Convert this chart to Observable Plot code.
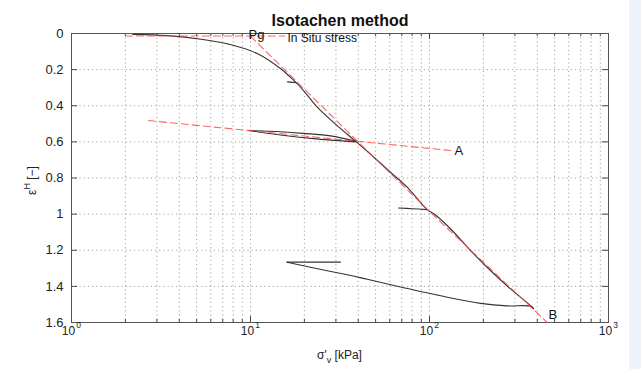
<!DOCTYPE html>
<html><head><meta charset="utf-8">
<script src="https://cdn.jsdelivr.net/npm/d3@7"></script>
<script src="https://cdn.jsdelivr.net/npm/@observablehq/plot@0.6"></script>
<style>
html,body{margin:0;padding:0;background:#fff;}
body{width:641px;height:369px;overflow:hidden;position:relative;font-family:"Liberation Sans",Arial,sans-serif;}
#chart{position:absolute;left:0;top:0;}
#strip{position:absolute;left:629px;top:0;width:12px;height:369px;background:#eef3fb;}
</style></head><body>
<div id="chart"></div><div id="strip"></div>
<script>
// ---- data ----
// main loading (virgin compression) path
const mainSigma = [2.2, 3.4, 5.3, 8.0, 10.9, 14.7, 16.7, 19.4, 23.6, 30.5, 38.6, 48.9, 60.5, 75, 97.1, 105.7, 131, 169.5, 219, 283.6, 375, 381];
const mainStrain = [0.005, 0.012, 0.032, 0.065, 0.111, 0.194, 0.242, 0.306, 0.408, 0.510, 0.596, 0.685, 0.768, 0.851, 0.975, 0.998, 1.081, 1.202, 1.312, 1.414, 1.515, 1.523];
// small unload/reload steps
const stub1Sigma = [18.0, 16.1];
const stub1Strain = [0.272, 0.268];
const unload1Sigma = [38.6, 28, 19.8, 14.7, 9.75];
const unload1Strain = [0.596, 0.567, 0.553, 0.544, 0.537];
const reload1Sigma = [9.75, 14.7, 22.5, 38.6];
const reload1Strain = [0.537, 0.562, 0.582, 0.600];
const stub2Sigma = [97.1, 80, 67.1];
const stub2Strain = [0.975, 0.970, 0.966];
const unload3Sigma = [381, 366.7, 271.6, 192.8, 125.6, 68.9, 44.9, 34.7, 22.6, 16.0];
const unload3Strain = [1.523, 1.510, 1.508, 1.494, 1.460, 1.403, 1.361, 1.336, 1.298, 1.266];
const reload3Sigma = [16.0, 31.8];
const reload3Strain = [1.266, 1.266];

// red dashed construction lines
const inSituSigma = [2, 15.5];
const inSituStrain = [0.014, 0.014];
const ncSigma = [10, 39, 100, 455];
const ncStrain = [0.015, 0.59, 0.985, 1.6];
const urSigma = [2.69, 131];
const urStrain = [0.482, 0.648];

// annotations
const annText = ["Pg", "In Situ stress", "A", "B"];
const annSigma = [9.75, 16.1, 138, 462];
const annStrain = [0.006, 0.026, 0.652, 1.56];

// axes
const xMajor = [1, 10, 100, 1000];
const xExp = ["0", "1", "2", "3"];
const xMinor = [1, 10, 100].flatMap(d => [2,3,4,5,6,7,8,9].map(k => k * d));
const yTicks = [0, 0.2, 0.4, 0.6, 0.8, 1, 1.2, 1.4, 1.6];
const yTickLabels = ["0", "0.2", "0.4", "0.6", "0.8", "1", "1.2", "1.4", "1.6"];
const yGrid = [0.2, 0.4, 0.6, 0.8, 1, 1.2, 1.4];
const title = "Isotachen method";

// ---- build tables ----
const tbl = (s, e, id) => s.map((v, i) => ({s: v, e: e[i], id}));
const black = [
  ...tbl(mainSigma, mainStrain, "main"),
  ...tbl(stub1Sigma, stub1Strain, "stub1"),
  ...tbl(unload1Sigma, unload1Strain, "un1"),
  ...tbl(reload1Sigma, reload1Strain, "re1"),
  ...tbl(stub2Sigma, stub2Strain, "stub2"),
  ...tbl(unload3Sigma, unload3Strain, "un3"),
  ...tbl(reload3Sigma, reload3Strain, "re3")
];
const red = [...tbl(inSituSigma, inSituStrain, "insitu"), ...tbl(ncSigma, ncStrain, "nc"), ...tbl(urSigma, urStrain, "ur")];
const ann = annText.map((t, i) => ({t, s: annSigma[i], e: annStrain[i]}));

const W = 641, H = 369, mL = 71, mR = 33, mT = 33, mB = 47;
const fw = W - mL - mR, fh = H - mT - mB;
const gridStyle = {stroke: "#8a8a8a", strokeWidth: 0.8, strokeDasharray: "1.2,3", strokeOpacity: 1};
const tickC = "#444";

const plot = Plot.plot({
  width: W, height: H,
  marginLeft: mL, marginRight: mR, marginTop: mT, marginBottom: mB,
  style: {fontFamily: "'Liberation Sans', Arial, sans-serif", background: "transparent", overflow: "visible"},
  x: {type: "log", domain: [1, 1000], axis: null},
  y: {domain: [0, 1.6], reverse: true, axis: null},
  marks: [
    Plot.gridX(xMinor, {...gridStyle}),
    Plot.gridX([10, 100], {...gridStyle}),
    Plot.gridY(yGrid, {...gridStyle}),
    // inward ticks
    Plot.tickX(xMajor, {x: d => d, stroke: tickC, insetTop: fh - 6}),
    Plot.tickX(xMajor, {x: d => d, stroke: tickC, insetBottom: fh - 6}),
    Plot.tickX(xMinor, {x: d => d, stroke: tickC, insetTop: fh - 3}),
    Plot.tickX(xMinor, {x: d => d, stroke: tickC, insetBottom: fh - 3}),
    Plot.tickY(yTicks, {y: d => d, stroke: tickC, insetRight: fw - 6}),
    Plot.tickY(yTicks, {y: d => d, stroke: tickC, insetLeft: fw - 6}),
    Plot.frame({stroke: "#555", strokeWidth: 1}),
    // experimental curve
    Plot.line(black, {x: "s", y: "e", z: "id", stroke: "#333", strokeWidth: 1.1, curve: "catmull-rom"}),
    // construction lines
    Plot.line(red, {x: "s", y: "e", z: "id", stroke: "#ff4a4a", strokeWidth: 1.1, strokeDasharray: "7,4", strokeOpacity: 0.85}),
    // annotations
    Plot.text(ann, {x: "s", y: "e", text: "t", textAnchor: "start", fontSize: d => d.t === "In Situ stress" ? 12 : 13, fill: "#111"}),
    // tick labels
    Plot.text(yTicks, {y: d => d, text: (d, i) => yTickLabels[i], frameAnchor: "left", textAnchor: "end", dx: -8, fontSize: 13, fill: "#222"}),
    Plot.text(xMajor, {x: d => d, text: () => "10", frameAnchor: "bottom", dx: -3, dy: 12, fontSize: 12, fill: "#222"}),
    Plot.text(xMajor, {x: d => d, text: (d, i) => xExp[i], frameAnchor: "bottom", dx: 7, dy: 5, fontSize: 8.5, fill: "#222"}),
    // title
    Plot.text([title], {text: d => d, frameAnchor: "top", dy: -19, fontSize: 16, fontWeight: "bold", fill: "#111"})
  ]
});
document.getElementById("chart").appendChild(plot);

// axis titles with sub/superscripts
const svg = d3.select(plot);
const xl = svg.append("text").attr("x", mL + fw / 2).attr("y", H - 10)
  .attr("text-anchor", "middle").attr("font-size", 12).attr("fill", "#222")
  .attr("font-family", "'Liberation Sans', Arial, sans-serif");
xl.append("tspan").text("σ'");
xl.append("tspan").attr("dy", 4).attr("font-size", 9).text("v");
xl.append("tspan").attr("dy", -4).text(" [kPa]");

const yl = svg.append("text").attr("transform", `translate(36,${mT + fh / 2 + 3}) rotate(-90)`)
  .attr("text-anchor", "middle").attr("font-size", 12).attr("fill", "#222")
  .attr("font-family", "'Liberation Sans', Arial, sans-serif");
yl.append("tspan").text("ε");
yl.append("tspan").attr("dy", -6).attr("font-size", 9).text("H");
yl.append("tspan").attr("dy", 6).text(" [−]");
</script>
</body></html>
